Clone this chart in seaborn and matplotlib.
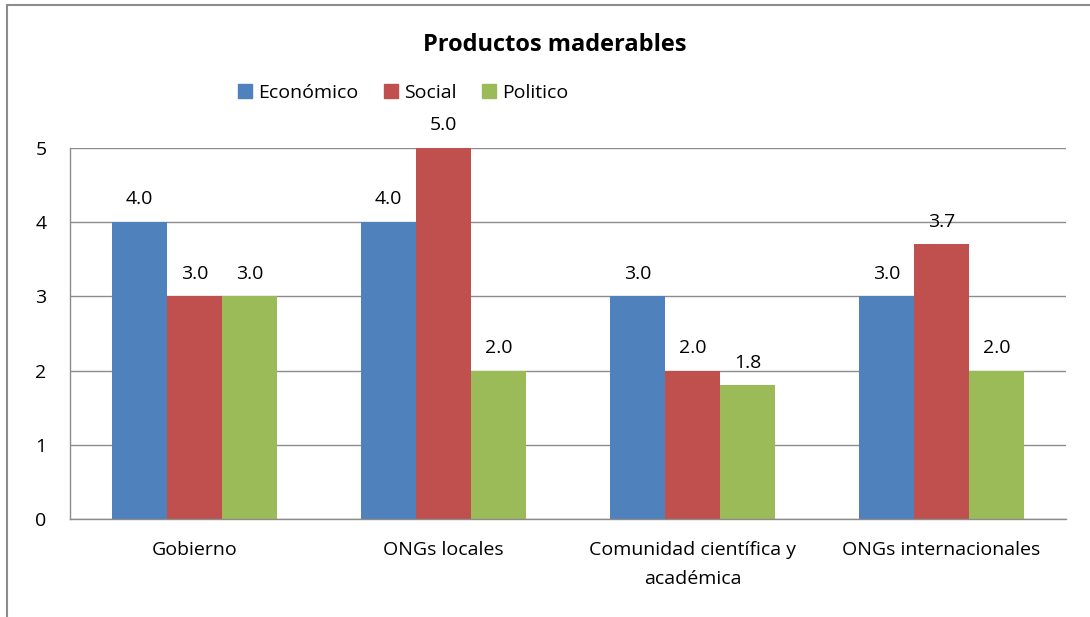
import matplotlib.pyplot as plt
import matplotlib.patches as mpatches
import pandas as pd
import seaborn as sns

categories = ["Gobierno", "ONGs locales", "Comunidad científica y\nacadémica", "ONGs internacionales"]
series = ["Económico", "Social", "Politico"]
economico = [4.0, 4.0, 3.0, 3.0]
social = [3.0, 5.0, 2.0, 3.7]
politico = [3.0, 2.0, 1.8, 2.0]
colors = ["#4F81BD", "#C0504D", "#9BBB59"]

df = pd.DataFrame({
    "categoria": categories * 3,
    "serie": [s for s in series for _ in categories],
    "valor": economico + social + politico,
})

sns.set_style("white")
plt.rcParams['font.family'] = ['Open Sans', 'DejaVu Sans']
plt.rcParams['text.color'] = 'black'
plt.rcParams['xtick.color'] = 'black'
plt.rcParams['ytick.color'] = 'black'

fig = plt.figure(figsize=(10.9, 6.17), dpi=100)
ax = fig.add_axes([70 / 1090, 1 - 519 / 617, 996 / 1090, 371 / 617])

sns.barplot(data=df, x="categoria", y="valor", hue="serie", order=categories,
            hue_order=series, palette=colors, width=0.663, saturation=1,
            edgecolor="none", linewidth=0, ax=ax)

# Data labels
for cont in ax.containers:
    ax.bar_label(cont, fmt="%.1f", padding=10, fontsize=14, color="black")

ax.set_ylim(0, 5)
ax.set_yticks([0, 1, 2, 3, 4, 5])
ax.yaxis.grid(True, color="#8c8c8c", linewidth=1)
ax.set_axisbelow(True)
ax.set_xlabel("")
ax.set_ylabel("")
ax.tick_params(axis="y", labelsize=14, length=0, pad=17)
ax.tick_params(axis="x", labelsize=14, length=0, pad=16)
for lbl in ax.get_xticklabels():
    lbl.set_linespacing(1.75)
for side in ["top", "right"]:
    ax.spines[side].set_visible(False)
for side in ["left", "bottom"]:
    ax.spines[side].set_color("#8c8c8c")
    ax.spines[side].set_linewidth(1)

ax.legend_.remove()
handles = [mpatches.Patch(color=c, label=s) for c, s in zip(colors, series)]
fig.legend(handles=handles, loc="center", bbox_to_anchor=(403 / 1090, 1 - 93 / 617),
           ncol=3, frameon=False, fontsize=14, handlelength=0.75, handleheight=0.75,
           handletextpad=0.3, columnspacing=1.3)

fig.text(555 / 1090, 1 - 45 / 617, "Productos maderables", ha="center", va="center",
         fontsize=17, fontweight="bold", color="black")

# outer chart border
border = mpatches.Rectangle((7 / 1090, -0.1), 1.2, 1 - 5 / 617 + 0.1, transform=fig.transFigure,
                            fill=False, edgecolor="#8c8c8c", linewidth=1.5, clip_on=False)
fig.patches.append(border)

fig.savefig("out.png", dpi=100)
